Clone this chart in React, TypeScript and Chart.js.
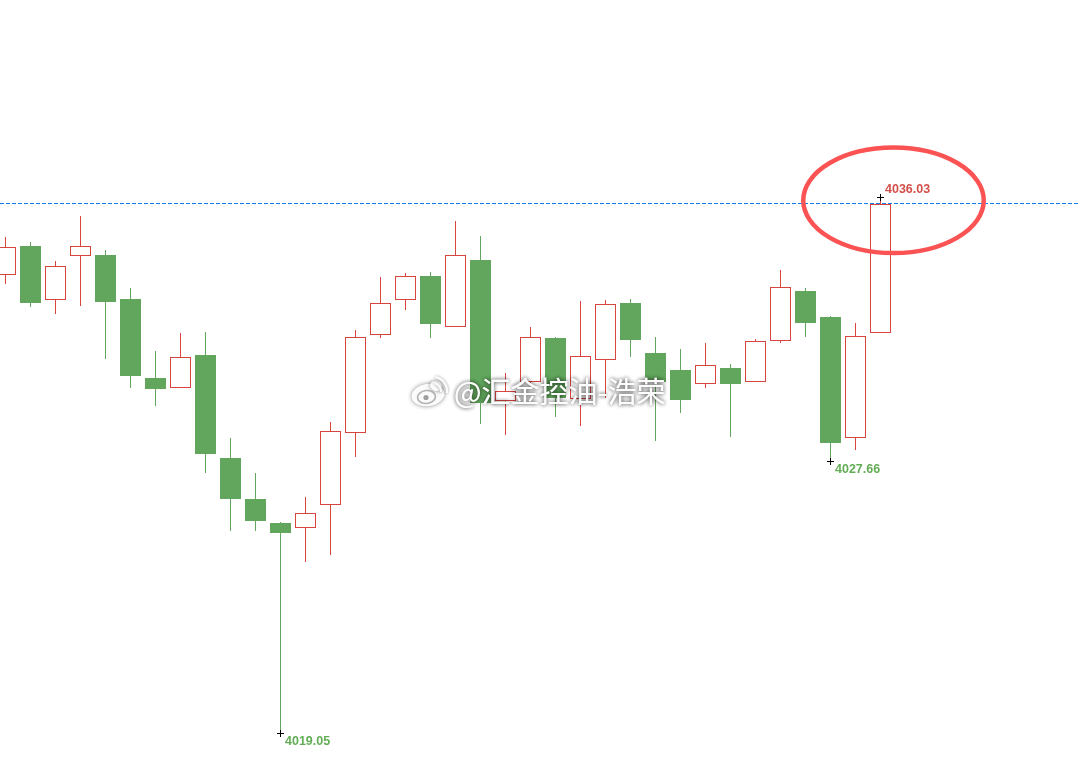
import React, { useEffect, useRef } from "react";
import { Chart, registerables } from "chart.js";

Chart.register(...registerables);

const categories = Array.from({ length: 36 }, (_, i) => `K${i + 1}`);
const opens = [
  4033.56, 4034.49, 4032.77, 4034.16, 4034.20, 4032.81, 4030.31, 4029.98, 4031.04,
  4027.77, 4026.47, 4025.71, 4025.55, 4026.28, 4028.56, 4031.66, 4032.77, 4033.54,
  4031.91, 4034.04, 4029.57, 4030.17, 4031.57, 4029.63, 4030.87, 4032.68, 4031.10,
  4030.56, 4030.11, 4030.62, 4030.17, 4031.47, 4033.06, 4032.24, 4028.40, 4031.72,
];
const closes = [
  4034.45, 4032.68, 4033.84, 4034.48, 4032.71, 4030.37, 4029.96, 4030.96, 4027.91,
  4026.47, 4025.78, 4025.40, 4026.02, 4028.62, 4031.60, 4032.67, 4033.53, 4032.02,
  4034.19, 4029.51, 4029.89, 4031.60, 4029.68, 4030.99, 4032.64, 4031.51, 4030.19,
  4029.61, 4030.71, 4030.12, 4031.47, 4033.18, 4032.05, 4028.26, 4031.63, 4035.81,
];
const highs = [
  4034.77, 4034.61, 4034.01, 4035.44, 4034.36, 4033.16, 4031.16, 4031.73, 4031.76,
  4028.41, 4027.30, 4025.75, 4026.54, 4028.91, 4031.83, 4033.51, 4033.62, 4033.66,
  4035.28, 4034.80, 4030.46, 4031.92, 4031.60, 4032.75, 4032.78, 4032.81, 4031.60,
  4031.23, 4031.42, 4030.75, 4031.54, 4033.73, 4033.16, 4032.27, 4032.05, 4036.03,
];
const lows = [
  4033.29, 4032.57, 4032.34, 4032.60, 4030.92, 4029.99, 4029.43, 4029.98, 4027.31,
  4025.47, 4025.47, 4019.05, 4024.49, 4024.71, 4027.81, 4031.58, 4032.47, 4031.58,
  4031.91, 4028.86, 4028.51, 4030.08, 4029.08, 4028.80, 4029.66, 4030.98, 4028.32,
  4029.21, 4030.00, 4028.45, 4030.17, 4031.43, 4031.62, 4027.66, 4028.04, 4031.72,
];

const extremeIndexes = [11, 33, 35];
const extremeValues = [4019.05, 4027.66, 4036.03];
const extremeLabels = ["4019.05", "4027.66", "4036.03"];
const extremeColors = ["#62ad55", "#62ad55", "#d2504a"];
const referenceLevel = 4035.834;

const RED = "#d8453f";
const GREEN = "#61a65c";
const BLUE = "#1580ee";

const ellipse = { x: 35.52, y: 4035.935, rx: 3.61, ry: 1.67 };
const watermarkText = "@汇金控油-浩荣";

const snapMarks = {
  id: "snapMarks",
  beforeDatasetsDraw(chart: any) {
    chart.data.datasets.forEach((ds: any, i: number) => {
      if (ds.type === "bar") {
        chart.getDatasetMeta(i).data.forEach((el: any) => {
          el.x = Math.floor(el.x) + 0.5;
          el.y = Math.round(el.y);
          el.base = Math.round(el.base);
        });
      } else if (ds.type === "scatter") {
        chart.getDatasetMeta(i).data.forEach((el: any) => {
          el.x = Math.floor(el.x) + 0.5;
          el.y = Math.floor(el.y) + 0.5;
        });
      }
    });
  },
};

const annotations = {
  id: "annotations",
  afterDraw(chart: any) {
    const { ctx, scales } = chart;
    const px = (v: number) => scales.x.getPixelForValue(v);
    const py = (v: number) => scales.y.getPixelForValue(v);

    ctx.save();
    // extreme value labels
    ctx.font = 'bold 12.5px "Liberation Sans", Arial, sans-serif';
    ctx.textBaseline = "middle";
    extremeLabels.forEach((t, i) => {
      const up = extremeValues[i] > 4030;
      ctx.fillStyle = extremeColors[i];
      ctx.fillText(t, px(extremeIndexes[i]) + 4.5, py(extremeValues[i]) + (up ? -7.5 : 8));
    });

    // circled highlight
    ctx.beginPath();
    ctx.ellipse(
      px(ellipse.x),
      py(ellipse.y),
      Math.abs(px(ellipse.x + ellipse.rx) - px(ellipse.x)),
      Math.abs(py(ellipse.y + ellipse.ry) - py(ellipse.y)),
      0,
      0,
      Math.PI * 2
    );
    ctx.lineWidth = 4.5;
    ctx.strokeStyle = "#fb5353";
    ctx.stroke();

    // watermark
    ctx.shadowColor = "rgba(0,0,0,0.5)";
    ctx.shadowBlur = 4;
    ctx.fillStyle = "rgba(255,255,255,0.96)";
    ctx.font = '29px "Noto Sans CJK SC", sans-serif';
    ctx.textBaseline = "middle";
    ctx.fillText(watermarkText, 454, 392);
    ctx.fillText(watermarkText, 454, 392);

    // weibo logo
    ctx.beginPath();
    ctx.ellipse(428, 395, 16.5, 11, -0.15, 0, Math.PI * 2);
    ctx.fill();
    ctx.beginPath();
    ctx.ellipse(436, 386, 6, 5, 0.3, 0, Math.PI * 2);
    ctx.fill();
    ctx.shadowBlur = 0;
    ctx.shadowColor = "transparent";
    ctx.strokeStyle = "rgba(170,170,170,0.9)";
    ctx.lineWidth = 1.6;
    ctx.beginPath();
    ctx.ellipse(426.5, 397, 9, 6.5, -0.1, 0, Math.PI * 2);
    ctx.stroke();
    ctx.fillStyle = "rgba(150,150,150,0.9)";
    ctx.beginPath();
    ctx.arc(426, 397.5, 2.6, 0, Math.PI * 2);
    ctx.fill();
    ctx.shadowColor = "rgba(0,0,0,0.45)";
    ctx.shadowBlur = 3;
    ctx.strokeStyle = "rgba(255,255,255,0.95)";
    ctx.lineWidth = 2.2;
    ctx.beginPath();
    ctx.arc(433, 391, 8, -1.4, 0.15);
    ctx.stroke();
    ctx.beginPath();
    ctx.arc(433, 391, 14, -1.4, 0.15);
    ctx.stroke();
    ctx.restore();
  },
};

export default function App() {
  const ref = useRef<HTMLCanvasElement>(null);

  useEffect(() => {
    document.body.style.margin = "0";
    document.body.style.background = "#fff";
    const isUp = opens.map((o, i) => closes[i] >= o);
    const color = isUp.map((u) => (u ? RED : GREEN));
    const chart = new Chart(ref.current!, {
      type: "bar",
      data: {
        labels: categories,
        datasets: [
          {
            type: "line",
            label: "level",
            data: [
              { x: -0.22, y: referenceLevel },
              { x: 42.98, y: referenceLevel },
            ],
            borderColor: BLUE,
            borderWidth: 1,
            borderDash: [4, 2],
            pointRadius: 0,
            order: 4,
          },
          {
            type: "bar",
            label: "wick",
            data: categories.map((_, i) => ({ x: i, y: [lows[i], highs[i]] })),
            backgroundColor: color,
            borderWidth: 0,
            barThickness: 1,
            inflateAmount: 0,
            grouped: false,
            order: 3,
          },
          {
            type: "bar",
            label: "body",
            data: categories.map((_, i) => ({ x: i, y: [opens[i], closes[i]] })),
            backgroundColor: isUp.map((u) => (u ? "#ffffff" : GREEN)),
            borderColor: color,
            borderWidth: 1,
            borderSkipped: false,
            barThickness: 21,
            inflateAmount: 0,
            grouped: false,
            order: 2,
          },
          {
            type: "scatter",
            label: "extremes",
            data: extremeIndexes.map((x, i) => ({ x, y: extremeValues[i] })),
            pointStyle: "cross",
            pointRadius: 3.5,
            borderColor: "#000000",
            borderWidth: 1,
            showLine: false,
            order: 1,
          },
        ] as any,
      },
      options: {
        animation: false,
        responsive: false,
        devicePixelRatio: 1,
        layout: { padding: 0, autoPadding: false },
        plugins: { legend: { display: false }, tooltip: { enabled: false } },
        scales: {
          x: { type: "linear", display: false, min: -0.22, max: 42.98, offset: false },
          y: { type: "linear", display: false, min: 4017.478, max: 4042.28 },
        },
      } as any,
      plugins: [snapMarks, annotations],
    });
    return () => chart.destroy();
  }, []);

  return (
    <div style={{ position: "fixed", left: 0, top: 0, width: 1080, height: 783, background: "#fff" }}>
      <canvas ref={ref} width={1080} height={783} style={{ display: "block" }} />
    </div>
  );
}
